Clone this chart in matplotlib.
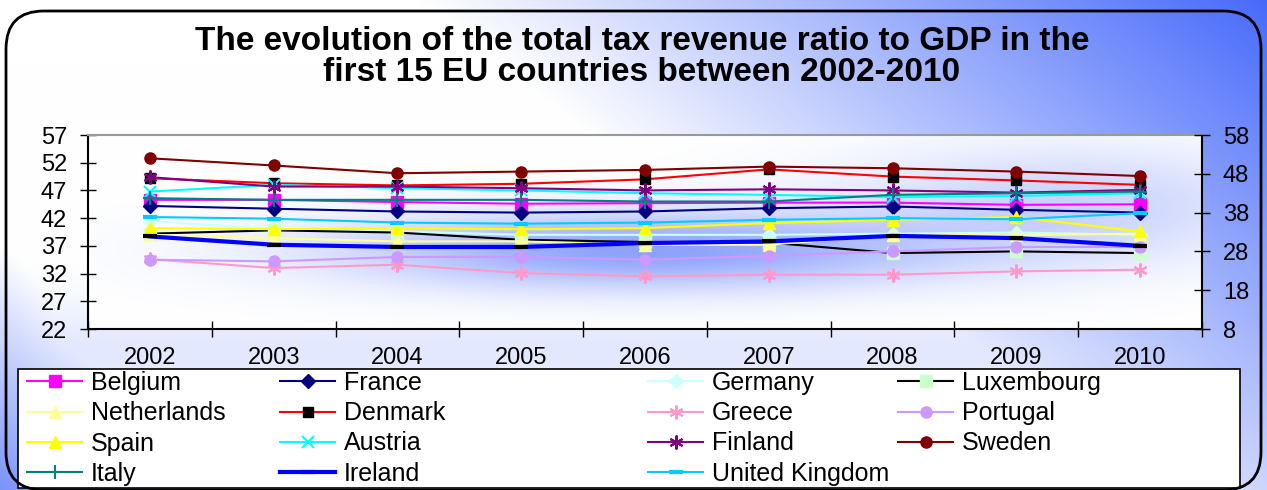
import numpy as np
import matplotlib
matplotlib.use("Agg")
import matplotlib.pyplot as plt
from matplotlib.lines import Line2D
from matplotlib.patches import Rectangle, FancyBboxPatch

plt.rcParams['font.family'] = ['Liberation Sans', 'DejaVu Sans']

years = ['2002', '2003', '2004', '2005', '2006', '2007', '2008', '2009', '2010']

belgium     = [45.3, 45.3, 44.9, 44.6, 44.7, 44.8, 44.8, 44.4, 44.5]
france      = [44.2, 43.7, 43.2, 43.0, 43.2, 43.8, 44.1, 43.5, 43.0]
germany     = [41.5, 40.0, 39.6, 39.0, 39.0, 39.0, 39.2, 39.4, 39.0]
luxembourg  = [39.2, 39.8, 39.4, 38.1, 37.7, 37.6, 35.7, 36.0, 35.7]
netherlands = [39.0, 38.4, 37.8, 37.8, 37.2, 37.2, 39.0, 38.9, 39.2]
denmark     = [49.2, 48.3, 47.9, 48.2, 49.0, 50.8, 49.5, 48.8, 48.0]
greece      = [34.6, 33.0, 33.6, 32.1, 31.5, 31.8, 31.8, 32.4, 32.7]
portugal    = [34.5, 34.2, 35.0, 35.0, 34.5, 35.2, 36.0, 36.8, 36.8]
spain       = [40.2, 40.0, 40.2, 40.0, 40.2, 41.1, 41.7, 42.2, 39.6]
austria     = [46.8, 48.0, 47.4, 47.0, 46.5, 46.2, 45.8, 46.0, 46.5]
finland     = [49.4, 47.7, 47.7, 47.4, 47.0, 47.2, 47.0, 46.6, 47.1]
sweden      = [52.8, 51.5, 50.1, 50.4, 50.7, 51.3, 51.0, 50.4, 49.6]
italy       = [45.6, 45.3, 45.3, 45.3, 45.0, 45.0, 46.2, 46.5, 46.8]
ireland     = [38.7, 37.2, 36.8, 36.8, 37.5, 37.8, 38.8, 38.4, 37.0]
uk          = [42.2, 41.9, 41.2, 41.0, 41.2, 41.7, 42.0, 41.8, 42.9]

left_ticks = [22, 27, 32, 37, 42, 47, 52, 57]
right_ticks = [8, 18, 28, 38, 48, 58]

W, H = 1267, 490
fig = plt.figure(figsize=(W / 100, H / 100), dpi=100)

# ---- figure background gradient ----
bg = fig.add_axes([0, 0, 1, 1], zorder=-10)
bg.set_axis_off()
gx, gy = np.meshgrid(np.linspace(0, 1, 320), np.linspace(0, 1, 124))
t = np.clip(1.45 * (gx - 0.33) - 0.7 * gy, 0, 1)
t = np.maximum(t, np.clip(1.4 * (gy - 0.5) - 3.0 * gx, 0, 1))
t = np.maximum(t, 0.15 * np.exp(-((gy - 0.72) / 0.1) ** 2))
blue = np.array([0.26, 0.40, 0.98])
img = (1 - t[..., None]) * np.array([1, 1, 1]) + t[..., None] * blue
bg.imshow(img, extent=[0, 1, 0, 1], aspect='auto', interpolation='bilinear')
bg.set_xlim(0, 1)
bg.set_ylim(0, 1)

border = FancyBboxPatch((6 / W, 0.0), (W - 12) / W, (H - 11) / H,
                        boxstyle="round,pad=0,rounding_size=0.03",
                        transform=fig.transFigure, fill=False,
                        edgecolor='black', linewidth=2.0, zorder=5,
                        mutation_aspect=W / H)
fig.patches.append(border)

# ---- main axes ----
ax = fig.add_axes([88 / W, 1 - 329 / H, (1202 - 88) / W, (329 - 135) / H])
ax.set_facecolor('white')
ax.set_xlim(-0.5, 8.5)
ax.set_ylim(22, 57)

# glow inside plot area
px, py = np.meshgrid(np.linspace(0, 1, 300), np.linspace(0, 1, 100))
glow = 0.66 * np.exp(-((px - 0.5) / 0.27) ** 2 - ((py - 0.6) / 0.2) ** 2)
glow += 0.3 * np.exp(-((px - 0.88) / 0.2) ** 2 - ((py - 0.35) / 0.3) ** 2)
glow = np.clip(glow, 0, 1)
gimg = (1 - glow[..., None]) * np.array([1, 1, 1]) + glow[..., None] * np.array([0.33, 0.45, 0.98])
ax.imshow(gimg, extent=[0, 1, 0, 1], transform=ax.transAxes, aspect='auto',
          interpolation='bilinear', zorder=0, origin='upper')

x = np.arange(len(years))

series = [
    ('Belgium', belgium, dict(color='#FF00FF', marker='s', mfc='#FF00FF', mec='#FF00FF', ms=8)),
    ('France', france, dict(color='#000080', marker='D', mfc='#000080', mec='#000080', ms=7)),
    ('Germany', germany, dict(color='#CCFFFF', marker='D', mfc='#CCFFFF', mec='#CCFFFF', ms=7)),
    ('Luxembourg', luxembourg, dict(color='#000000', marker='s', mfc='#CCFFCC', mec='#CCFFCC', ms=8)),
    ('Netherlands', netherlands, dict(color='#FFFF99', marker='^', mfc='#FFFF99', mec='#FFFF99', ms=9)),
    ('Denmark', denmark, dict(color='#FF0000', marker='s', mfc='#000000', mec='#000000', ms=7)),
    ('Greece', greece, dict(color='#FF99CC', marker=(6, 2, 0), mfc='#FF99CC', mec='#FF99CC', ms=10, mew=1.5)),
    ('Portugal', portugal, dict(color='#CC99FF', marker='o', mfc='#CC99FF', mec='#CC99FF', ms=8)),
    ('Spain', spain, dict(color='#FFFF00', marker='^', mfc='#FFFF00', mec='#FFFF00', ms=9)),
    ('Austria', austria, dict(color='#00FFFF', marker='x', mfc='#00FFFF', mec='#00FFFF', ms=9, mew=1.5)),
    ('Finland', finland, dict(color='#800080', marker=(6, 2, 0), mfc='#800080', mec='#800080', ms=10, mew=1.5)),
    ('Sweden', sweden, dict(color='#800000', marker='o', mfc='#800000', mec='#800000', ms=8)),
    ('Italy', italy, dict(color='#008080', marker='+', mfc='#008080', mec='#008080', ms=10, mew=1.5)),
    ('Ireland', ireland, dict(color='#0000FF', marker='_', mfc='#000000', mec='#000000', ms=10, mew=3, lw=3)),
    ('United Kingdom', uk, dict(color='#00CCFF', marker='_', mfc='#00CCFF', mec='#00CCFF', ms=10, mew=3)),
]

handles = {}
for name, vals, st in series:
    st = dict(st)
    lw = st.pop('lw', 1.5)
    ax.plot(x, vals, linewidth=lw, zorder=3, **st, label=name)
    hst = dict(st)
    if name == 'Ireland':
        hst['mec'] = '#0000FF'
    handles[name] = Line2D([], [], linewidth=lw, **hst)

ax.set_xticks(np.arange(-0.5, 9, 1), minor=False)
ax.set_xticklabels([])
ax.set_xticks(x, minor=True)
ax.set_xticklabels(years, minor=True, fontsize=17)
ax.tick_params(axis='x', which='major', direction='inout', length=12, width=1, color='black')
ax.tick_params(axis='x', which='minor', length=0, pad=13)
ax.set_yticks(left_ticks)
ax.tick_params(axis='y', direction='inout', length=12, width=1, labelsize=17, pad=9)

for s in ['left', 'bottom', 'right']:
    ax.spines[s].set_color('black')
    ax.spines[s].set_linewidth(1.5)
ax.spines['top'].set_color('#999999')
ax.spines['top'].set_linewidth(1.5)

ax2 = ax.twinx()
ax2.set_ylim(8, 58)
ax2.set_yticks(right_ticks)
ax2.tick_params(axis='y', direction='inout', length=12, width=1, labelsize=17, pad=9)
for s in ['left', 'bottom', 'right', 'top']:
    ax2.spines[s].set_visible(False)

# ---- title ----
fig.text(642 / W, 1 - 57 / H,
         'The evolution of the total tax revenue ratio to GDP in the\nfirst 15 EU countries between 2002-2010',
         ha='center', va='center', fontsize=24, fontweight='bold', linespacing=1.03)

# ---- legend ----
frame = Rectangle((18 / W, 1 - 488 / H), (1240 - 18) / W, (488 - 369) / H,
                  transform=fig.transFigure, facecolor='white', edgecolor='black',
                  linewidth=1.2, zorder=1)
fig.patches.append(frame)

columns = [
    (27, ['Belgium', 'Netherlands', 'Spain', 'Italy']),
    (280, ['France', 'Denmark', 'Austria', 'Ireland']),
    (648, ['Germany', 'Greece', 'Finland', 'United Kingdom']),
    (898, ['Luxembourg', 'Portugal', 'Sweden']),
]
for x0, names in columns:
    leg = fig.legend([handles[n] for n in names], names, loc='upper left',
                     bbox_to_anchor=(x0 / W, 1 - 371 / H), bbox_transform=fig.transFigure,
                     frameon=False, fontsize=18, handlelength=2.2, handletextpad=0.35,
                     borderpad=0, borderaxespad=0, labelspacing=0.25, numpoints=1)
    leg.set_zorder(6)

fig.savefig('out.png', dpi=100)
